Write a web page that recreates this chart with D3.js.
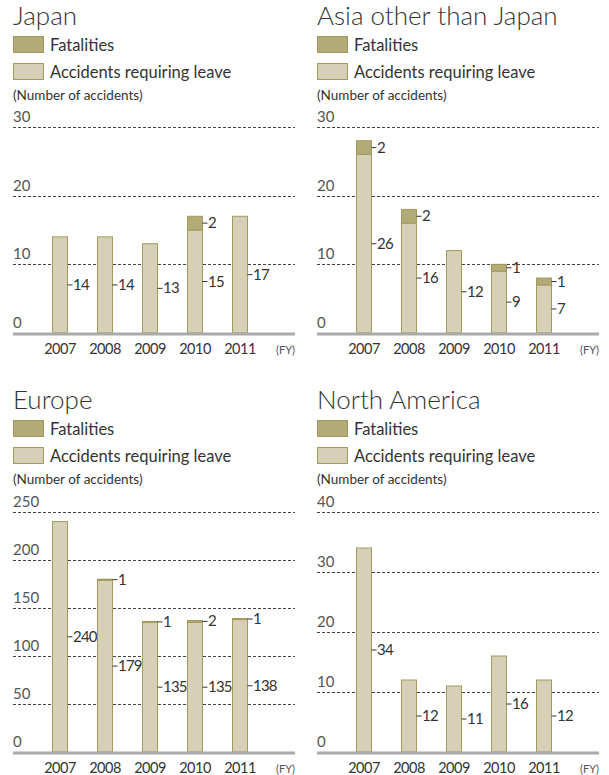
<!DOCTYPE html>
<html>
<head>
<meta charset="utf-8">
<script src="https://cdn.jsdelivr.net/npm/d3@7"></script>
<style>
  body { margin: 0; background: #fff; }
  svg text { font-family: Lato, "Open Sans", sans-serif; fill: #333; }
</style>
</head>
<body>
<svg width="609" height="775"></svg>
<script>
const years = ['2007', '2008', '2009', '2010', '2011'];

const japanLeave = [14, 14, 13, 15, 17];
const japanFatal = [0, 0, 0, 2, 0];
const asiaLeave = [26, 16, 12, 9, 7];
const asiaFatal = [2, 2, 0, 1, 1];
const europeLeave = [240, 179, 135, 135, 138];
const europeFatal = [0, 1, 1, 2, 1];
const naLeave = [34, 12, 11, 16, 12];
const naFatal = [0, 0, 0, 0, 0];

const japanTicks = [0, 10, 20, 30];
const asiaTicks = [0, 10, 20, 30];
const europeTicks = [0, 50, 100, 150, 200, 250];
const naTicks = [0, 10, 20, 30, 40];

const fatalColor = '#b1ab77';
const leaveColor = '#d5d0b6';
const edgeColor = '#a19a5c';

const svg = d3.select('svg');

// panel: ox, oy = header origin; top/base = plot extents
const panels = [
  { title: 'Japan', leave: japanLeave, fatal: japanFatal, ticks: japanTicks, ox: 13, oy: 0, top: 127, base: 333 },
  { title: 'Asia other than Japan', leave: asiaLeave, fatal: asiaFatal, ticks: asiaTicks, ox: 317, oy: 0, top: 127, base: 333 },
  { title: 'Europe', leave: europeLeave, fatal: europeFatal, ticks: europeTicks, ox: 13, oy: 384, top: 512, base: 752 },
  { title: 'North America', leave: naLeave, fatal: naFatal, ticks: naTicks, ox: 317, oy: 384, top: 512, base: 752 },
];

function drawPanel(p) {
  const g = svg.append('g');
  const w = 282;

  g.append('text').attr('x', p.ox).attr('y', p.oy + 25)
    .style('font-size', '26px').style('font-weight', 300).text(p.title);

  const legend = [['Fatalities', fatalColor], ['Accidents requiring leave', leaveColor]];
  legend.forEach(([name, col], i) => {
    g.append('rect').attr('x', p.ox + 0.5).attr('y', p.oy + 36.5 + i * 27)
      .attr('width', 30).attr('height', 16)
      .attr('fill', col).attr('stroke', edgeColor);
    g.append('text').attr('x', p.ox + 37).attr('y', p.oy + 51 + i * 27)
      .style('font-size', '16.5px').text(name);
  });
  g.append('text').attr('x', p.ox).attr('y', p.oy + 100)
    .style('font-size', '13.5px').text('(Number of accidents)');

  const y = d3.scaleLinear().domain([0, d3.max(p.ticks)]).range([p.base, p.top]);
  const x = d3.scalePoint().domain(years).range([p.ox + 47, p.ox + 227]);
  const bw = 15;

  // gridlines + tick labels
  p.ticks.forEach((t) => {
    if (t > 0) {
      g.append('line').attr('x1', p.ox).attr('x2', p.ox + w)
        .attr('y1', Math.round(y(t)) + 0.5).attr('y2', Math.round(y(t)) + 0.5)
        .attr('stroke', '#444').attr('stroke-dasharray', '3,2');
    }
    g.append('text').attr('x', p.ox).attr('y', y(t) - 5)
      .style('font-size', '15px').style('fill', '#555').text(t);
  });

  years.forEach((yr, i) => {
    const lv = p.leave[i];
    const ft = p.fatal[i];
    const x0 = x(yr) - bw / 2;
    g.append('rect').attr('x', x0).attr('y', y(lv))
      .attr('width', bw).attr('height', y(0) - y(lv))
      .attr('fill', leaveColor).attr('stroke', edgeColor);
    if (ft > 0) {
      g.append('rect').attr('x', x0).attr('y', y(lv + ft))
        .attr('width', bw).attr('height', y(lv) - y(lv + ft))
        .attr('fill', fatalColor).attr('stroke', edgeColor);
    }
    const labels = [[lv, y(lv / 2)]];
    if (ft > 0) labels.push([ft, y(lv + ft / 2)]);
    labels.forEach(([v, ly]) => {
      g.append('line').attr('x1', x0 + bw).attr('x2', x0 + bw + 5)
        .attr('y1', ly).attr('y2', ly).attr('stroke', '#333');
      g.append('text').attr('x', x0 + bw + 5.5).attr('y', ly + 5)
        .style('font-size', '15px').style('letter-spacing', '-0.8px').text(v);
    });
    g.append('text').attr('x', x(yr)).attr('y', p.base + 21)
      .attr('text-anchor', 'middle').style('font-size', '14.5px')
      .style('letter-spacing', '-0.5px').text(yr);
  });

  g.append('line').attr('x1', p.ox).attr('x2', p.ox + w)
    .attr('y1', p.base + 1).attr('y2', p.base + 1)
    .attr('stroke', '#aaa').attr('stroke-width', 3);
  g.append('text').attr('x', p.ox + w).attr('y', p.base + 21)
    .attr('text-anchor', 'end').style('font-size', '11px').style('fill', '#555').text('(FY)');
}

panels.forEach(drawPanel);
</script>
</body>
</html>
